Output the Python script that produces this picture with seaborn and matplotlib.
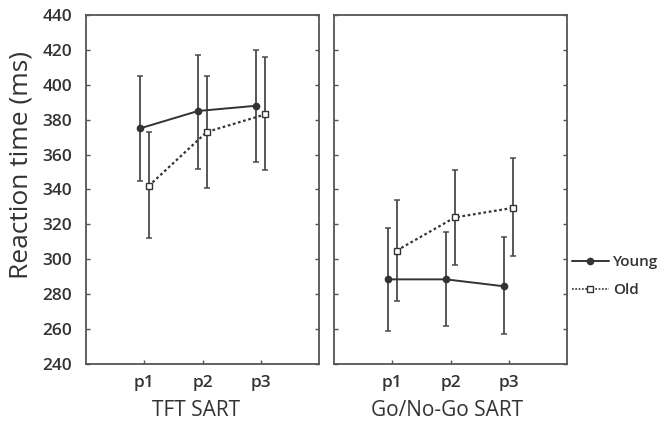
import numpy as np
import pandas as pd
import matplotlib
matplotlib.use("Agg")
import matplotlib.pyplot as plt
import seaborn as sns
from matplotlib.lines import Line2D

# ---- data ----
phases = ["p1", "p2", "p3"]
tasks = ["TFT SART", "Go/No-Go SART"]
groups = ["Young", "Old"]

tft_young_mean = [375, 385, 388]
tft_young_lo = [345, 352, 356]
tft_young_hi = [405, 417, 420]
tft_old_mean = [342, 373, 383]
tft_old_lo = [312, 341, 351]
tft_old_hi = [373, 405, 416]

gng_young_mean = [288.5, 288.5, 284.5]
gng_young_lo = [259, 261.5, 257]
gng_young_hi = [318, 315.5, 313]
gng_old_mean = [305, 324, 329.5]
gng_old_lo = [276, 297, 302]
gng_old_hi = [334, 351, 358]

yticks = list(range(240, 441, 20))

rows = []
series = {
    ("TFT SART", "Young"): (tft_young_mean, tft_young_lo, tft_young_hi),
    ("TFT SART", "Old"): (tft_old_mean, tft_old_lo, tft_old_hi),
    ("Go/No-Go SART", "Young"): (gng_young_mean, gng_young_lo, gng_young_hi),
    ("Go/No-Go SART", "Old"): (gng_old_mean, gng_old_lo, gng_old_hi),
}
for (task, grp), (m, lo, hi) in series.items():
    for i, ph in enumerate(phases):
        rows.append(dict(task=task, group=grp, phase=ph, idx=i, mean=m[i], lo=lo[i], hi=hi[i]))
df = pd.DataFrame(rows)

# ---- style ----
sns.set_style("white")
plt.rcParams["font.family"] = ["Open Sans", "DejaVu Sans"]
plt.rcParams["font.weight"] = 600
ink = "#333333"
plt.rcParams["text.color"] = ink
plt.rcParams["axes.labelcolor"] = ink
plt.rcParams["xtick.labelcolor"] = ink
plt.rcParams["ytick.labelcolor"] = ink
plt.rcParams["xtick.color"] = "#555555"
plt.rcParams["ytick.color"] = "#555555"

W, H = 663, 430
fig = plt.figure(figsize=(W / 100, H / 100), dpi=100)
ax_top, ax_bot = 15, 364
axL = fig.add_axes([86 / W, (H - ax_bot) / H, 233 / W, (ax_bot - ax_top) / H])
axR = fig.add_axes([334 / W, (H - ax_bot) / H, 233 / W, (ax_bot - ax_top) / H])

dodge = {"Young": -0.075, "Old": 0.075}
styles = {
    "Young": dict(ls="-", marker="o", mfc=ink, ms=4.5),
    "Old": dict(ls=(0, (1.2, 1.2)), marker="s", mfc="white", ms=4),
}

label_x = {"TFT SART": 0.472, "Go/No-Go SART": 0.485}

for ax, task in [(axL, "TFT SART"), (axR, "Go/No-Go SART")]:
    sub = df[df.task == task].copy()
    sub["x"] = sub["idx"] + sub["group"].map(dodge)
    for grp in groups:
        g = sub[sub.group == grp]
        ax.errorbar(g["x"], g["mean"],
                    yerr=[g["mean"] - g["lo"], g["hi"] - g["mean"]],
                    fmt="none", ecolor="#4a4a4a", elinewidth=1.3,
                    capsize=2.2, capthick=1.1, zorder=2)
    for grp in groups:
        g = sub[sub.group == grp]
        st = styles[grp]
        sns.lineplot(data=g, x="x", y="mean", ax=ax, color=ink,
                     linewidth=1.4 if grp == "Young" else 1.6,
                     linestyle=st["ls"], marker=st["marker"],
                     markersize=st["ms"], markerfacecolor=st["mfc"],
                     markeredgecolor=ink, markeredgewidth=1.0,
                     legend=False, zorder=3)
    ax.set_xlim(-1, 3)
    ax.set_ylim(240, 440)
    ax.set_xticks(range(len(phases)))
    ax.set_xticklabels(phases)
    ax.set_yticks(yticks)
    ax.set_xlabel(task, fontsize=15, fontweight=500)
    ax.xaxis.set_label_coords(label_x[task], -0.103)
    ax.set_ylabel("")
    ax.tick_params(axis="both", direction="in", length=3, width=1,
                   labelsize=12.5, pad=8)
    ax.tick_params(axis="y", right=True, left=True)
    ax.tick_params(axis="x", bottom=True, top=False)
    for sp in ax.spines.values():
        sp.set_visible(True)
        sp.set_color("#555555")
        sp.set_linewidth(1.3)

axL.set_yticklabels([str(t) for t in yticks])
axL.tick_params(axis="y", pad=10)
axR.set_yticklabels([])
axL.set_ylabel("Reaction time (ms)", fontsize=19, fontweight=500)
axL.yaxis.set_label_coords(-0.225, 0.57)

handles = [
    Line2D([], [], color=ink, lw=1.4, ls="-", marker="o", ms=4.5,
           mfc=ink, mec=ink),
    Line2D([], [], color=ink, lw=1.2, ls=(0, (1, 1)), marker="s", ms=4,
           mfc="white", mec=ink),
]
fig.legend(handles, groups, loc="upper left",
           bbox_to_anchor=(566 / W, 1 - 249 / H), frameon=False,
           fontsize=11, handlelength=2.4, handletextpad=0.3,
           labelspacing=0.9, borderaxespad=0)

fig.savefig("out.png", dpi=100)
